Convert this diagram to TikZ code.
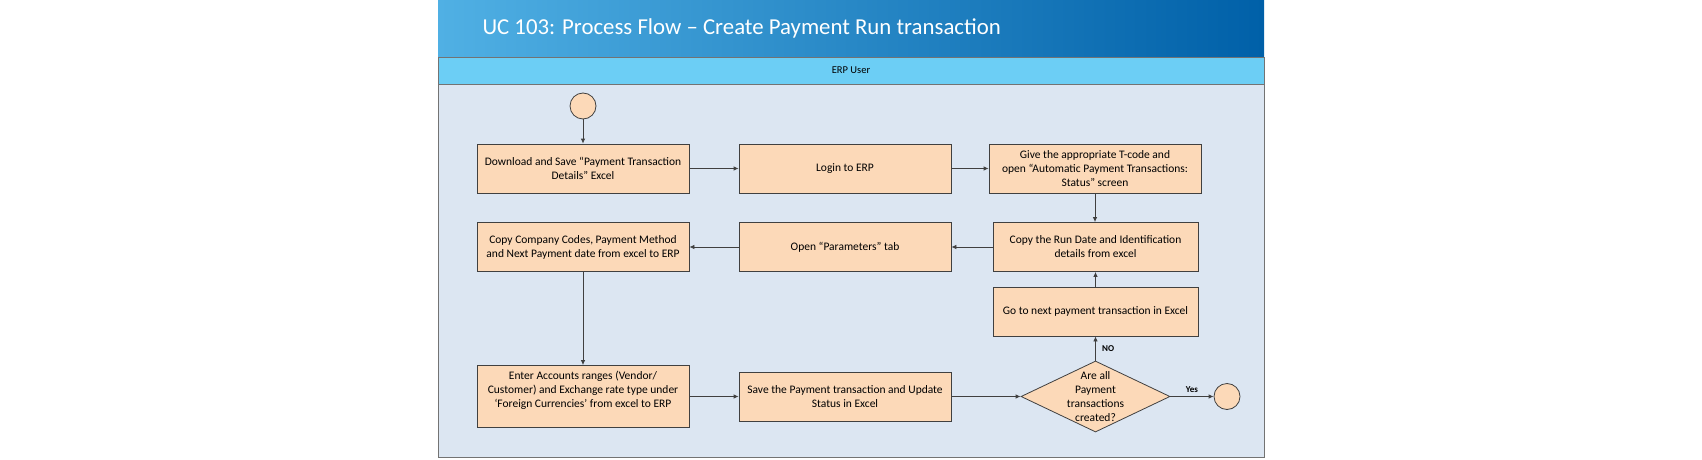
\documentclass[tikz,border=0pt]{standalone}
\usepackage{fontspec}
\setmainfont{Carlito}
\usetikzlibrary{shapes.geometric,arrows.meta}
\definecolor{boxfill}{RGB}{252,217,184}
\definecolor{titleleft}{RGB}{80,176,228}
\definecolor{titleright}{RGB}{0,96,168}
\definecolor{lanecyan}{RGB}{108,206,245}
\definecolor{bodyblue}{RGB}{220,230,242}
\definecolor{linegray}{RGB}{64,64,64}

\begin{document}
\begin{tikzpicture}[x=1pt,y=-1pt,
  >={Latex[length=5pt,width=4.5pt]},
  stepbox/.style={draw=linegray, line width=0.8pt, fill=boxfill, minimum width=212pt,
    minimum height=49pt, inner sep=2pt, align=center, font=\fontsize{11.5}{14}\selectfont},
  decision/.style={diamond, draw=linegray, line width=0.8pt, fill=boxfill, minimum width=149pt,
    minimum height=71pt, inner sep=0pt},
  terminal/.style={circle, draw=linegray, line width=0.8pt, fill=boxfill, minimum size=26pt, inner sep=0pt},
  flow/.style={->, draw=linegray, line width=0.8pt},
  flowlabel/.style={font=\fontsize{9}{10}\selectfont\bfseries}]
\useasboundingbox (0,0) rectangle (1702,460);
%\draw[help lines, color=gray!30, dashed] (438,0) grid[step=50pt] (1264,460);
\shade[left color=titleleft, right color=titleright] (438,1) rectangle (1264,57);
\filldraw[fill=lanecyan, draw=black!55, line width=0.8pt] (438,57) rectangle (1264,84);
\filldraw[fill=bodyblue, draw=black!55, line width=0.8pt] (438,84) rectangle (1264,457);
\node[anchor=west, text=white, font=\fontsize{22.8}{26}\selectfont] (title) at (479,28)
  {UC 103: Process Flow – Create Payment Run transaction};
\node[font=\fontsize{10.5}{12}\selectfont] (lane) at (851,70.5) {ERP User};

\node[terminal] (start) at (583,106) {};
\node[stepbox] (download) at (583,168.5) {Download and Save “Payment Transaction\\Details” Excel};
\node[stepbox] (login) at (845,168.5) {Login to ERP};
\node[stepbox] (tcode) at (1095,168.5) {Give the appropriate T-code and\\open “Automatic Payment Transactions:\\Status” screen};
\node[stepbox] (copycodes) at (583,247) {Copy Company Codes, Payment Method\\and Next Payment date from excel to ERP};
\node[stepbox] (params) at (845,247) {Open “Parameters” tab};
\node[stepbox, minimum width=205pt] (rundate) at (1095.5,247) {Copy the Run Date and Identification\\details from excel};
\node[stepbox, minimum width=205pt] (nextpay) at (1095.5,311.5) {Go to next payment transaction in Excel};
\node[stepbox, minimum height=62pt] (accounts) at (583,396.5) {Enter Accounts ranges (Vendor/\\Customer) and Exchange rate type under\\‘Foreign Currencies’ from excel to ERP\\\mbox{}};
\node[stepbox] (save) at (845,396.5) {Save the Payment transaction and Update\\Status in Excel};
\node[decision] (allcreated) at (1095.5,396.5) {};
\node[align=center, font=\fontsize{11.5}{13.8}\selectfont] (allcreatedtext) at (allcreated) {Are all\\Payment\\transactions\\created?};
\node[terminal] (finish) at (1227,396.5) {};

\draw[flow] (start) -- (download);
\draw[flow] (download) -- (login);
\draw[flow] (login) -- (tcode);
\draw[flow] (tcode.south) -- (tcode.south |- rundate.north);
\draw[flow] (rundate) -- (params);
\draw[flow] (params) -- (copycodes);
\draw[flow] (copycodes) -- (accounts);
\draw[flow] (accounts) -- (save);
\draw[flow] (save) -- (allcreated);
\draw[flow] (allcreated) -- node[right, flowlabel, xshift=3pt] {NO} (nextpay);
\draw[flow] (nextpay) -- (rundate);
\draw[flow] (allcreated) -- node[above, flowlabel] {Yes} (finish);
\end{tikzpicture}
\end{document}
